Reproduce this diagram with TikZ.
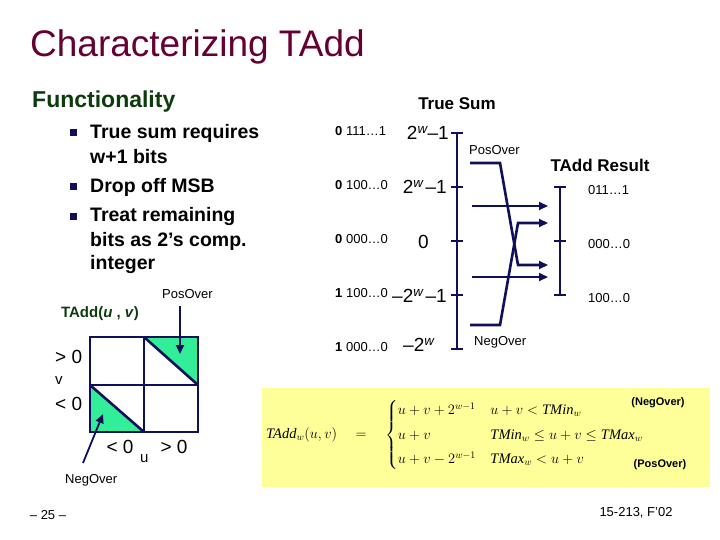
\documentclass[tikz,border=0pt]{standalone}
\usepackage{amsmath}
\usepackage{fontspec}
\setmainfont{Liberation Sans}
\newfontfamily\serifit{Liberation Serif}
\newcommand\fitx[1]{\text{\serifit\itshape #1}}
\usetikzlibrary{arrows.meta}
\definecolor{navy}{HTML}{10105A}
\definecolor{ttl}{HTML}{660033}
\definecolor{dgreen}{HTML}{0E3B0E}
\definecolor{mint}{HTML}{33EE99}
\definecolor{ylw}{HTML}{FFFF99}
\tikzset{
  lbl/.style={inner sep=0pt,anchor=west,font=\fontsize{13}{14}\selectfont},
  big/.style={inner sep=0pt,font=\fontsize{19}{20}\selectfont},
  bul/.style={inner sep=0pt,anchor=west,font=\bfseries\fontsize{19.5}{20}\selectfont},
  axis/.style={navy,line width=2.6pt},
  arr/.style={navy,line width=2.6pt,-{Triangle[length=9pt,width=8pt]}},
}
\begin{document}
\begin{tikzpicture}[x=1pt,y=-1pt]
\useasboundingbox (0,0) rectangle (720,540);
\node[anchor=west,inner sep=0pt,text=ttl,font=\fontsize{37}{40}\selectfont] (title) at (30,47) {Characterizing TAdd};
\node[anchor=west,inner sep=0pt,text=dgreen,font=\bfseries\fontsize{23}{24}\selectfont] (func) at (32,102) {Functionality};
\foreach \y/\t/\b in {133/True sum requires/1,157/w+1 bits/0,187/Drop off MSB/1,217/Treat remaining/1,241/bits as 2’s comp./0,265/integer/0}{
  \node[bul] at (90,\y) {\t};
  \ifnum\b=1 \fill[navy] (70,\y-4) rectangle (77,\y+3);\fi
}
\node[inner sep=0pt,font=\bfseries\fontsize{17}{18}\selectfont] (ts) at (457,104) {True Sum};
\node[inner sep=0pt,font=\bfseries\fontsize{17}{18}\selectfont] (tr) at (600,165) {TAdd Result};
% true sum axis
\coordinate (t1) at (457,133); \coordinate (t5) at (457,349);
\draw[axis] (t1) -- (t5);
\foreach \y in {133,187,241,295,349}{\draw[axis] (451,\y) -- (463,\y);}
\foreach \y/\b/\r in {131/0/111…1,185/0/100…0,239/0/000…0,293/1/100…0,347/1/000…0}{
  \node[lbl] at (335,\y) {\textbf{\b} \r};}
\node[big,anchor=east] at (449,133) {2\textsuperscript{\itshape w}–1};
\node[big,anchor=east] at (447,187) {2\textsuperscript{\itshape w\,}–1};
\node[big,anchor=west] at (418,242) {0};
\node[big,anchor=east] at (447,296) {–2\textsuperscript{\itshape w\,}–1};
\node[big,anchor=west] at (403,345) {–2\textsuperscript{\itshape w}};
% result axis
\draw[axis] (560,187) -- (560,295);
\foreach \y in {187,241,295}{\draw[axis] (554,\y) -- (566,\y);}
\node[lbl] at (588,190) {011…1};
\node[lbl] at (588,244) {000…0};
\node[lbl] at (588,298) {100…0};
% mapping
\node[lbl] (po) at (469,150) {PosOver};
\node[lbl] (no) at (474,342) {NegOver};
\draw[arr] (470,163) -- (500,163) -- (518,265) -- (548,265);
\draw[arr] (470,325) -- (500,325) -- (518,223) -- (548,223);
\draw[arr] (472,206) -- (548,206);
\draw[arr] (472,277) -- (548,277);
% grid
\fill[mint] (144,337) -- (198,337) -- (198,385) -- cycle;
\fill[mint] (90,385) -- (90,432) -- (144,432) -- cycle;
\draw[axis] (90,337) rectangle (198,432);
\draw[axis] (144,337) -- (144,432) (90,385) -- (198,385);
\draw[axis] (144,337) -- (198,385) (90,385) -- (144,432);
\node[inner sep=0pt,text=dgreen,font=\bfseries\fontsize{15}{16}\selectfont] (ta) at (100,314) {TAdd(\textit{u} , \textit{v})};
\node[lbl] (gpo) at (162,294) {PosOver};
\node[lbl] (gno) at (65,480) {NegOver};
\draw[arr,line width=1.8pt] (180,306) -- (180,354);
\draw[arr,line width=1.8pt] (83,463) -- (103,414);
\node[big,anchor=west] at (55,357) {> 0};
\node[lbl,font=\fontsize{15}{16}\selectfont] at (55,381) {v};
\node[big,anchor=west] at (55,404) {< 0};
\node[big] at (120,447) {< 0};
\node[lbl,font=\fontsize{15}{16}\selectfont] at (140,459) {u};
\node[big] at (174,447) {> 0};
% formula
\fill[ylw] (262,388) rectangle (710,487);
\node[anchor=west,inner sep=0pt,font=\fontsize{14.5}{17}\selectfont] (fm) at (266,435) {$\fitx{TAdd}_w(u,v)\quad=\quad\begin{cases}u+v+2^{w-1} & u+v<\fitx{TMin}_w\\[4pt] u+v & \fitx{TMin}_w\le u+v\le \fitx{TMax}_w\\[4pt] u+v-2^{w-1} & \fitx{TMax}_w<u+v\end{cases}$};
\node[inner sep=0pt,font=\bfseries\fontsize{11}{12}\selectfont] at (658,403) {(NegOver)};
\node[inner sep=0pt,font=\bfseries\fontsize{11}{12}\selectfont] at (660,465) {(PosOver)};
\node[inner sep=0pt,font=\fontsize{13}{14}\selectfont] (pg) at (48,515) {– 25 –};
\node[inner sep=0pt,font=\fontsize{13}{14}\selectfont] (cr) at (636,513) {15-213, F’02};
\end{tikzpicture}
\end{document}
